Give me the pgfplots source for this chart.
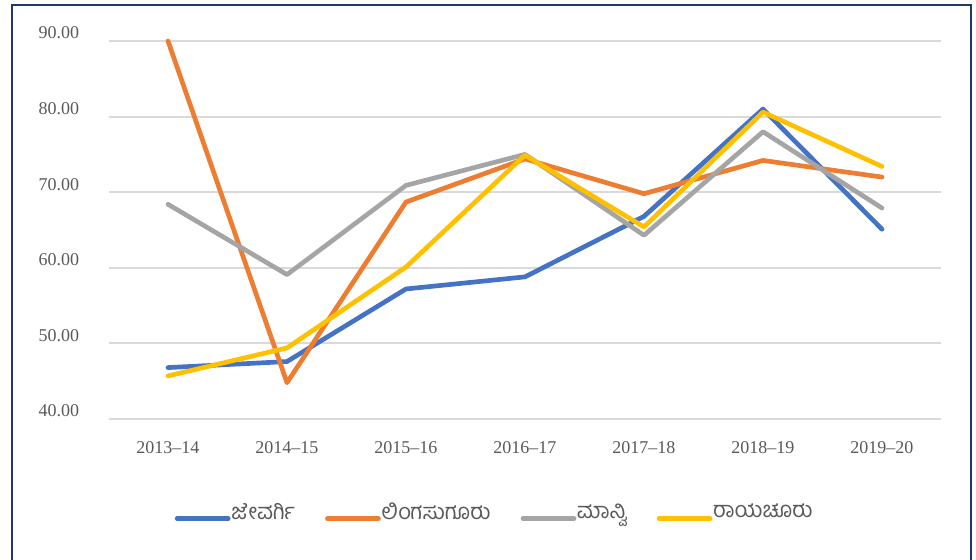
\documentclass[border=0pt]{standalone}
\usepackage{fontspec}
\setmainfont{Liberation Serif}
\newfontfamily\kn[Script=Kannada]{Hind Mysuru}
\usepackage{pgfplots}
\pgfplotsset{compat=1.18}
\definecolor{cBlue}{HTML}{4472C4}
\definecolor{cOrange}{HTML}{ED7D31}
\definecolor{cGray}{HTML}{A5A5A5}
\definecolor{cYellow}{HTML}{FFC000}
\definecolor{frameC}{HTML}{203864}
\definecolor{txt}{HTML}{595959}
\definecolor{gridC}{HTML}{D9D9D9}
\begin{document}
\begin{tikzpicture}[x=0.75pt,y=0.75pt]
\useasboundingbox (0,0) rectangle (976,560);
\draw[color=frameC, line width=1.5pt] (11.5,-5) -- (11.5,555) -- (970.5,555) -- (970.5,-5);
\begin{axis}[
  at={(81.375pt,105.75pt)}, anchor=south west,
  scale only axis, width=624.75pt, height=283.5pt,
  xmin=-0.5, xmax=6.5, ymin=40, ymax=90,
  xtick={0,...,6},
  xticklabels={2013--14,2014--15,2015--16,2016--17,2017--18,2018--19,2019--20},
  ytick={40,50,...,90},
  ymajorgrids, grid style={color=gridC, line width=1.4pt},
  axis line style={draw=none},
  major tick length=0pt,
  tick style={draw=none},
  /pgf/number format/.cd, fixed, fixed zerofill, precision=2, assume math mode=true,
  /pgfplots/.cd,
  ticklabel style={font=\fontsize{13.5}{15}\selectfont, text=txt},
  yticklabel style={xshift=-18.5pt, yshift=6pt},
  xticklabel style={yshift=-13.5pt},
  clip=false,
  legend columns=4,
  legend style={at={(0.463,-0.246)}, anchor=center, draw=none, fill=none,
    font=\kn\fontsize{16.5}{18}\selectfont, text=txt,
    /tikz/every even column/.append style={column sep=22pt},
    nodes={inner xsep=0.5pt},
    inner sep=0pt},
  legend image code/.code={\draw[#1, line width=3.5pt, line cap=round] (1.75pt,-5pt) -- (40pt,-5pt);},
  every axis plot/.append style={line width=3.5pt, line cap=round, line join=round},
]
\addplot[cBlue] coordinates {(0,46.8) (1,47.6) (2,57.2) (3,58.8) (4,66.8) (5,81.0) (6,65.1)};
\addlegendentry{ಜೇವರ್ಗಿ}
\addplot[cOrange] coordinates {(0,90.0) (1,44.8) (2,68.7) (3,74.4) (4,69.8) (5,74.2) (6,72.0)};
\addlegendentry{ಲಿಂಗಸುಗೂರು}
\addplot[cGray] coordinates {(0,68.4) (1,59.1) (2,70.9) (3,75.0) (4,64.3) (5,78.0) (6,67.9)};
\addlegendentry{ಮಾನ್ವಿ}
\addplot[cYellow] coordinates {(0,45.7) (1,49.4) (2,60.1) (3,74.9) (4,65.4) (5,80.6) (6,73.4)};
\addlegendentry{ರಾಯಚೂರು}
\end{axis}
\end{tikzpicture}
\end{document}
